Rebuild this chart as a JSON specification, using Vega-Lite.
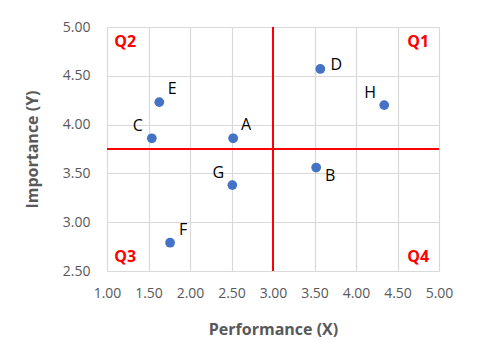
{
  "$schema": "https://vega.github.io/schema/vega-lite/v6.json",
  "width": 332,
  "height": 244,
  "autosize": {"type": "none"},
  "padding": {"left": 107, "top": 27, "right": 41, "bottom": 93},
  "background": "white",
  "config": {
    "font": "Open Sans",
    "view": {"stroke": "#d9d9d9", "strokeWidth": 1},
    "axis": {
      "domain": false,
      "ticks": false,
      "gridColor": "#d9d9d9",
      "gridWidth": 1.2,
      "labelColor": "#595959",
      "labelFontSize": 14,
      "labelFont": "Open Sans",
      "labelOverlap": false,
      "labelFlush": false,
      "titleColor": "#595959",
      "titleFontSize": 16,
      "titleFont": "Open Sans",
      "titleFontWeight": "bold"
    }
  },
  "datasets": {
    "pts": [
      {"label": "A", "performance": 2.52, "importance": 3.86, "pos": "ra"},
      {"label": "B", "performance": 3.52, "importance": 3.56, "pos": "rb"},
      {"label": "C", "performance": 1.54, "importance": 3.86, "pos": "la"},
      {"label": "D", "performance": 3.57, "importance": 4.57, "pos": "r"},
      {"label": "E", "performance": 1.63, "importance": 4.23, "pos": "ra"},
      {"label": "F", "performance": 1.76, "importance": 2.79, "pos": "ra"},
      {"label": "G", "performance": 2.51, "importance": 3.38, "pos": "la"},
      {"label": "H", "performance": 4.34, "importance": 4.2, "pos": "la"}
    ],
    "quads": [
      {"q": "Q1", "performance": 4.75, "importance": 4.85},
      {"q": "Q2", "performance": 1.22, "importance": 4.85},
      {"q": "Q3", "performance": 1.22, "importance": 2.64},
      {"q": "Q4", "performance": 4.75, "importance": 2.64}
    ],
    "vline": [{"performance": 3.0}],
    "hline": [{"importance": 3.75}]
  },
  "layer": [
    {
      "data": {"name": "pts"},
      "mark": {"type": "point", "filled": true, "opacity": 1, "size": 95, "color": "#4472C4"},
      "encoding": {
        "x": {
          "field": "performance", "type": "quantitative",
          "scale": {"domain": [1, 5], "nice": false, "zero": false},
          "axis": {"values": [1, 1.5, 2, 2.5, 3, 3.5, 4, 4.5, 5], "format": ".2f", "title": "Performance (X)", "labelPadding": 15, "titlePadding": 21}
        },
        "y": {
          "field": "importance", "type": "quantitative",
          "scale": {"domain": [2.5, 5], "nice": false, "zero": false},
          "axis": {"values": [2.5, 2.75, 3, 3.25, 3.5, 3.75, 4, 4.25, 4.5, 4.75, 5], "format": ".2f", "title": "Importance (Y)", "labelPadding": 17, "titlePadding": 22}
        }
      }
    },
    {
      "data": {"name": "vline"},
      "mark": {"type": "rule", "color": "#FF0000", "strokeWidth": 2},
      "encoding": {"x": {"field": "performance", "type": "quantitative"}}
    },
    {
      "data": {"name": "hline"},
      "mark": {"type": "rule", "color": "#FF0000", "strokeWidth": 2},
      "encoding": {"y": {"field": "importance", "type": "quantitative"}}
    },
    {
      "data": {"name": "pts"},
      "transform": [{"filter": "datum.pos === 'ra'"}],
      "mark": {"type": "text", "fontSize": 16, "color": "#000000", "dx": 13, "dy": -13},
      "encoding": {"x": {"field": "performance", "type": "quantitative"}, "y": {"field": "importance", "type": "quantitative"}, "text": {"field": "label"}}
    },
    {
      "data": {"name": "pts"},
      "transform": [{"filter": "datum.pos === 'la'"}],
      "mark": {"type": "text", "fontSize": 16, "color": "#000000", "dx": -14, "dy": -12},
      "encoding": {"x": {"field": "performance", "type": "quantitative"}, "y": {"field": "importance", "type": "quantitative"}, "text": {"field": "label"}}
    },
    {
      "data": {"name": "pts"},
      "transform": [{"filter": "datum.pos === 'r'"}],
      "mark": {"type": "text", "fontSize": 16, "color": "#000000", "dx": 16, "dy": -4},
      "encoding": {"x": {"field": "performance", "type": "quantitative"}, "y": {"field": "importance", "type": "quantitative"}, "text": {"field": "label"}}
    },
    {
      "data": {"name": "pts"},
      "transform": [{"filter": "datum.pos === 'rb'"}],
      "mark": {"type": "text", "fontSize": 16, "color": "#000000", "dx": 14, "dy": 8},
      "encoding": {"x": {"field": "performance", "type": "quantitative"}, "y": {"field": "importance", "type": "quantitative"}, "text": {"field": "label"}}
    },
    {
      "data": {"name": "quads"},
      "mark": {"type": "text", "fontSize": 16, "fontWeight": "bold", "color": "#FF0000"},
      "encoding": {"x": {"field": "performance", "type": "quantitative"}, "y": {"field": "importance", "type": "quantitative"}, "text": {"field": "q"}}
    }
  ]
}
